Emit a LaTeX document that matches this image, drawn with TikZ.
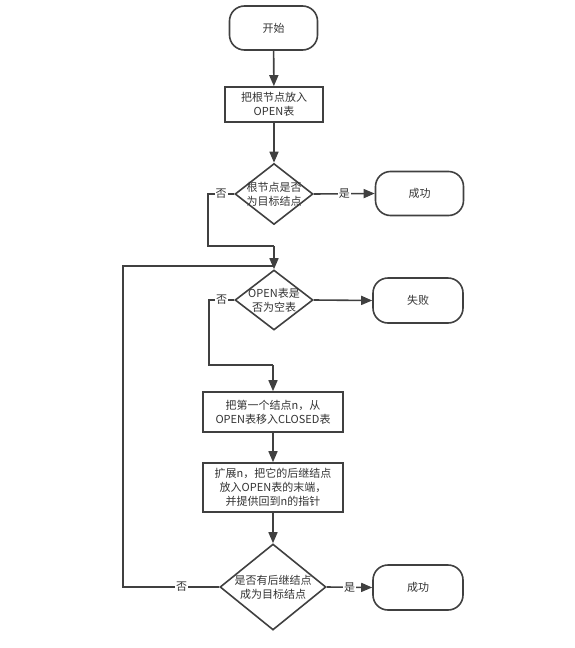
\documentclass[tikz,border=0pt]{standalone}
\usepackage{fontspec}
\setmainfont{Noto Sans CJK SC}
\usetikzlibrary{shapes.geometric,arrows.meta}
\definecolor{ln}{HTML}{404040}
\definecolor{tx}{HTML}{333333}
\tikzset{
  every node/.style={font=\fontsize{11}{14}\selectfont, text=tx},
  term/.style={draw=ln, line width=1.6pt, rounded corners=15pt, minimum width=88pt, minimum height=44pt, inner sep=0pt},
  proc/.style={draw=ln, line width=1.6pt, minimum width=140pt, inner sep=0pt, align=center},
  dec/.style={draw=ln, line width=1.6pt, diamond, inner sep=0pt},
  conn/.style={draw=ln, line width=1.6pt},
  arr/.style={conn, -{Triangle[length=11pt,width=9pt]}},
  lab/.style={fill=white, inner sep=1pt}
}
\begin{document}
\begin{tikzpicture}[x=1pt,y=-1pt]
\useasboundingbox (0,0) rectangle (575,648);
% nodes
\node[term] (start) at (273.5,28) {开始};
\node[proc, minimum width=98pt, minimum height=35pt] (b1) at (274,104.5) {把根节点放入\\OPEN表};
\node[dec, minimum width=78pt, minimum height=61pt] (d1) at (274,194) {};
\node[align=center] (t1) at (d1) {根节点是否\\为目标结点};
\node[term] (s1) at (419.5,193.5) {成功};
\node[dec, minimum width=78pt, minimum height=60pt] (d2) at (274,300) {};
\node[align=center] (t2) at (d2) {OPEN表是\\否为空表};
\node[term, minimum width=90pt, minimum height=45pt] (fail) at (418,300.5) {失败};
\node[proc, minimum height=40pt] (b3) at (273,412) {把第一个结点n，从\\OPEN表移入CLOSED表};
\node[proc, minimum height=49pt] (b4) at (273,487.5) {扩展n，把它的后继结点\\放入OPEN表的末端，\\并提供回到n的指针};
\node[dec, minimum width=106pt, minimum height=86pt] (d3) at (273,587) {};
\node[align=center] (t3) at (d3) {是否有后继结点\\成为目标结点};
\node[term, minimum width=90pt, minimum height=45pt] (s2) at (418,587.5) {成功};
% junction coordinates
\coordinate (m1) at (274,246);
\coordinate (j) at (274,266);
\coordinate (m2) at (273,365);
% connectors
\draw[arr] (start) -- (b1);
\draw[arr] (b1) -- (d1);
\draw[arr] (d1.east) -- node[lab]{是} (s1.west);
\draw[conn] (d1.west) -- node[lab]{否} (208,194) |- (m1);
\draw[arr] (m1) -- (d2.north);
\draw[arr] (d2.east) -- (fail.west);
\draw[conn] (d2.west) -- node[lab]{否} (209,300) |- (m2);
\draw[arr] (m2) -- (b3.north);
\draw[arr] (b3) -- (b4);
\draw[arr] (b4) -- (d3.north);
\draw[arr] (d3.east) -- node[lab,pos=0.5]{是} (s2.west);
\draw[conn] (d3.west) -- node[lab,pos=0.39]{否} (123,587) |- (j);
\end{tikzpicture}
\end{document}
